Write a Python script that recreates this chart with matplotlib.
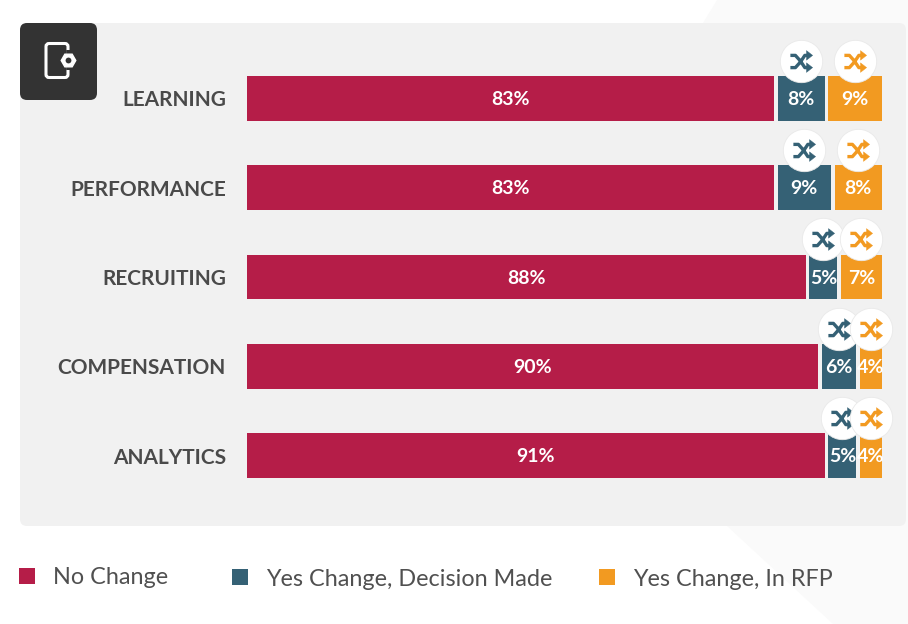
import matplotlib
matplotlib.use("Agg")
import matplotlib.pyplot as plt
import numpy as np
from matplotlib.patches import FancyBboxPatch, Polygon
from matplotlib.path import Path
from matplotlib.transforms import offset_copy

categories = ["LEARNING", "PERFORMANCE", "RECRUITING", "COMPENSATION", "ANALYTICS"]
no_change = [83, 83, 88, 90, 91]
decision_made = [8, 9, 5, 6, 5]
in_rfp = [9, 8, 7, 4, 4]
series_names = ["No Change", "Yes Change, Decision Made", "Yes Change, In RFP"]
series_colors = ["#B51D48", "#356175", "#F29A21"]

W, H = 908, 624
plt.rcParams["font.family"] = ["Lato", "DejaVu Sans"]
fig = plt.figure(figsize=(W / 100, H / 100), dpi=100, facecolor="white")

# page furniture in pixel coordinates
bg = fig.add_axes([0, 0, 1, 1], zorder=0)
bg.set_xlim(0, W)
bg.set_ylim(H, 0)
bg.axis("off")
bg.add_patch(Polygon([(717, 0), (908, 0), (908, 624), (833, 624), (727, 526), (703, 23)],
                     fc="#FAFAFA", ec="none"))
bg.add_patch(FancyBboxPatch((26, 29), 874, 491, boxstyle="round,pad=6,rounding_size=7",
                            fc="#F1F1F1", ec="none"))
bg.add_patch(FancyBboxPatch((26, 29), 65, 65, boxstyle="round,pad=6,rounding_size=7",
                            fc="#333333", ec="none"))
# phone + gear icon
bg.add_patch(FancyBboxPatch((46, 43.5), 22, 34, boxstyle="round,pad=0,rounding_size=3",
                            fc="none", ec="white", lw=2.2))
bg.add_patch(Polygon([(69, 50), (69, 70)], closed=False, fc="none", ec="#333333", lw=4))
bg.plot([68], [59.5], marker="H", ms=10.5, mfc="white", mec="white", ls="none")
bg.plot([68], [59.5], marker="o", ms=4.2, mfc="#333333", mec="none", ls="none")

# chart: x 0-100 maps to the bar track, categories to the rows
ax = fig.add_axes([246.8 / W, 1 - 500.2 / H, 635 / W, 446.7 / H], zorder=1)
ax.set_xlim(0, 100)
ax.set_ylim(4.5, -0.5)
ax.patch.set_alpha(0)
for s in ax.spines.values():
    s.set_visible(False)
ax.set_xticks([])
ax.set_yticks(range(len(categories)))
ax.set_yticklabels(categories, fontsize=15, fontweight="bold", color="#4A4A4A")
ax.tick_params(axis="y", length=0, pad=15)

GAP = 0.6
values = [no_change, decision_made, in_rfp]
y = np.arange(len(categories))
left = np.zeros(len(categories))
handles = []
centers = []
for i, (vals, col) in enumerate(zip(values, series_colors)):
    vals = np.array(vals, float)
    g = GAP if i else 0
    b = ax.barh(y, vals - g, left=left + g, height=0.5, color=col, zorder=2)
    handles.append(b)
    c = left + g + (vals - g) / 2
    centers.append(c)
    for yy, cx, v in zip(y, c, vals):
        ax.text(cx, yy + 0.015, f"{int(v)}%", ha="center", va="center", color="white",
                fontsize=14, fontweight="bold", zorder=6)
    left = left + vals

# shuffle badges above the two change segments
stroke = Path([(-1, .55), (-.55, .55), (-.1, .05), (.3, -.55), (.62, -.55),
               (-1, -.55), (-.55, -.55), (-.1, -.05), (.3, .55), (.62, .55), (1, 0)],
              [Path.MOVETO, Path.LINETO, Path.LINETO, Path.LINETO, Path.LINETO,
               Path.MOVETO, Path.LINETO, Path.LINETO, Path.LINETO, Path.LINETO, Path.MOVETO])
heads = Path([(.45, .98), (1, .55), (.45, .12), (.45, .98),
              (.45, -.98), (1, -.55), (.45, -.12), (.45, -.98), (-1, 0)],
             [Path.MOVETO, Path.LINETO, Path.LINETO, Path.CLOSEPOLY,
              Path.MOVETO, Path.LINETO, Path.LINETO, Path.CLOSEPOLY, Path.MOVETO])
up = offset_copy(ax.transData, fig=fig, x=-0.5, y=37.5, units="dots")
for i, col in [(1, series_colors[1]), (2, series_colors[2])]:
    z = 3 + i * 0.1
    ax.plot(centers[i], y, transform=up, ls="none", marker="o", ms=30.5, mfc="white",
            mec="#E9E9E9", mew=0.6, clip_on=False, zorder=z)
    ax.plot(centers[i], y, transform=up, ls="none", marker=stroke, ms=16, mfc="none",
            mec=col, mew=2.4, clip_on=False, zorder=z + 0.01)
    ax.plot(centers[i], y, transform=up, ls="none", marker=heads, ms=16, mfc=col,
            mec=col, mew=0.3, clip_on=False, zorder=z + 0.02)

# one legend per entry, since the gaps between entries differ
LEG_PT = 16.8
for h, name, x0, y0 in zip(handles, series_names, [19, 231.5, 599], [578, 579, 579]):
    fig.legend([h], [name], loc="center left", bbox_to_anchor=(x0 / W, 1 - y0 / H),
               frameon=False, fontsize=LEG_PT, labelcolor="#505050", borderpad=0,
               borderaxespad=0, handlelength=0.69, handleheight=0.69, handletextpad=0.77)

fig.savefig("out.png", dpi=100)
